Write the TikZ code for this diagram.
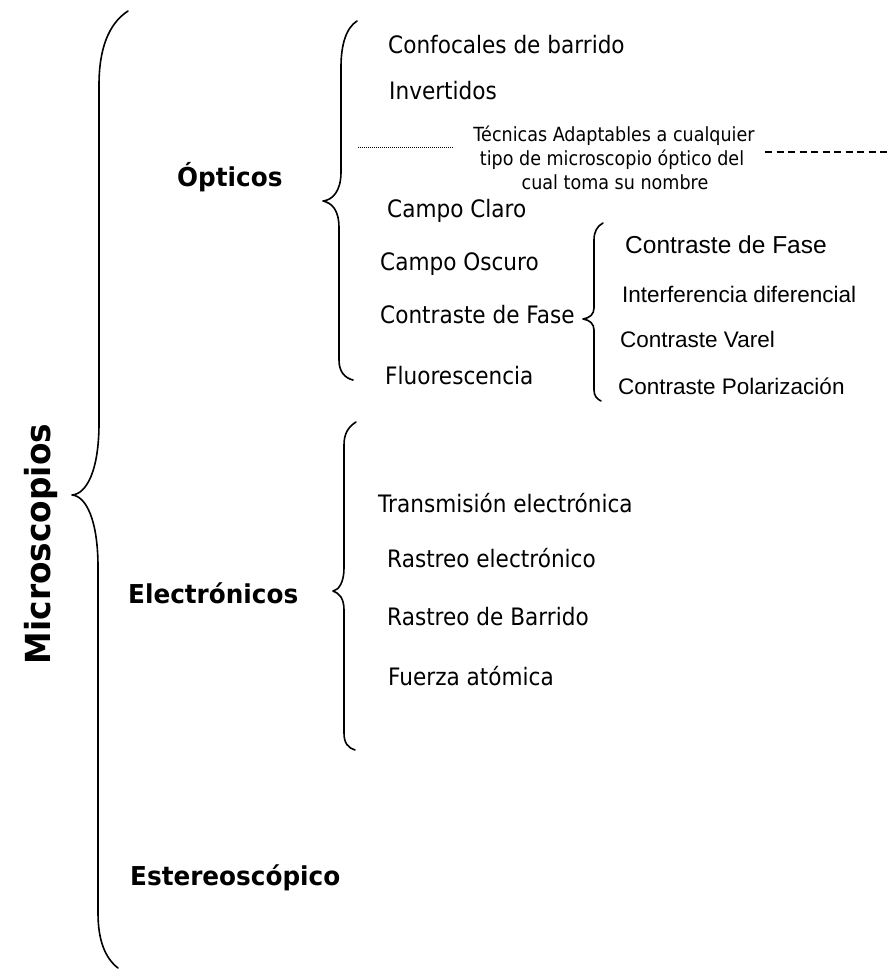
\documentclass[tikz,border=0pt]{standalone}
\usepackage{fontspec}
\setmainfont{DejaVu Sans}
\newfontfamily\tah[FakeStretch=0.9]{DejaVu Sans}
\newfontfamily\hbold[FakeStretch=0.95]{DejaVu Sans Bold}
\newfontfamily\ari{Liberation Sans}
\tikzset{
  brace/.style={line width=1.6pt, line cap=round, line join=round},
  head/.style={anchor=base west, inner sep=0pt, font=\hbold\fontsize{26}{30}\selectfont},
  item/.style={anchor=base west, inner sep=0pt, font=\tah\fontsize{24}{28}\selectfont},
  sub/.style={anchor=base west, inner sep=0pt, font=\ari\fontsize{22.5}{27}\selectfont},
  note/.style={anchor=base, inner sep=0pt, font=\tah\fontsize{19.5}{24}\selectfont},
  dotline/.style={line width=0.9pt, dash pattern=on 1pt off 1pt},
  dashline/.style={line width=1.4pt, dash pattern=on 7pt off 4.5pt},
}
\begin{document}
\begin{tikzpicture}[x=1pt,y=-1pt]
\path[use as bounding box] (0,0) rectangle (889,969);

% root
\node[rotate=90, anchor=base, inner sep=0pt, font=\hbold\fontsize{34.5}{40}\selectfont] (root) at (50,544) {Microscopios};

% big brace
\draw[brace] (128,11) .. controls (108,24) and (99,50) .. (99,85) -- (99,423)
  .. controls (99,472) and (86,494) .. (72,495)
  .. controls (86,496) and (98,520) .. (98,567) -- (98,913)
  .. controls (98,940) and (105,958) .. (118,968);

% level 1
\node[head] (opt) at (177,186) {Ópticos};
\node[head] (ele) at (128,603) {Electrónicos};
\node[head] (est) at (130,885) {Estereoscópico};

% optics brace
\draw[brace] (357,21) .. controls (346,28) and (341,45) .. (341,67) -- (341,172)
  .. controls (341,192) and (332,200) .. (323,201)
  .. controls (332,203) and (339,210) .. (339,228) -- (339,360)
  .. controls (339,372) and (345,378) .. (353,380);

\node[item] (conf) at (388,53) {Confocales de barrido};
\node[item] (inv) at (389,99) {Invertidos};
\node[item] (cc) at (387,217) {Campo Claro};
\node[item] (co) at (380,270) {Campo Oscuro};
\node[item] (cf) at (380,323) {Contraste de Fase};
\node[item] (flu) at (385,384) {Fluorescencia};

% note
\coordinate (d1) at (358,147);
\coordinate (d2) at (453,147);
\draw[dotline] (d1) -- (d2);
\node[note] (n1) at (614,141) {Técnicas Adaptables a cualquier};
\node[note] (n2) at (612,165) {tipo de microscopio óptico del};
\node[note] (n3) at (615,189) {cual toma su nombre};
\coordinate (e1) at (765,152);
\coordinate (e2) at (889,152);
\draw[dashline] (e1) -- (e2);

% contrast brace
\draw[brace] (603,223) .. controls (597,226) and (594,232) .. (594,240) -- (594,308)
  .. controls (594,314) and (590,318) .. (583,319)
  .. controls (590,320) and (594,324) .. (594,330) -- (594,390)
  .. controls (594,396) and (597,399) .. (601,401);

\node[sub, font=\ari\fontsize{24.5}{29}\selectfont] (s1) at (625,253) {Contraste de Fase};
\node[sub] (s2) at (622,302) {Interferencia diferencial};
\node[sub] (s3) at (620,347) {Contraste Varel};
\node[sub] (s4) at (618,394) {Contraste Polarización};

% electronics brace
\draw[brace] (356,422) .. controls (348,427) and (344,434) .. (344,445) -- (344,568)
  .. controls (344,582) and (339,590) .. (333,591)
  .. controls (339,593) and (344,598) .. (344,610) -- (344,733)
  .. controls (344,743) and (348,748) .. (355,750);

\node[item] (tr) at (378,512) {Transmisión electrónica};
\node[item] (re) at (387,567) {Rastreo electrónico};
\node[item] (rb) at (387,625) {Rastreo de Barrido};
\node[item] (fa) at (388,685) {Fuerza atómica};
\end{tikzpicture}
\end{document}
